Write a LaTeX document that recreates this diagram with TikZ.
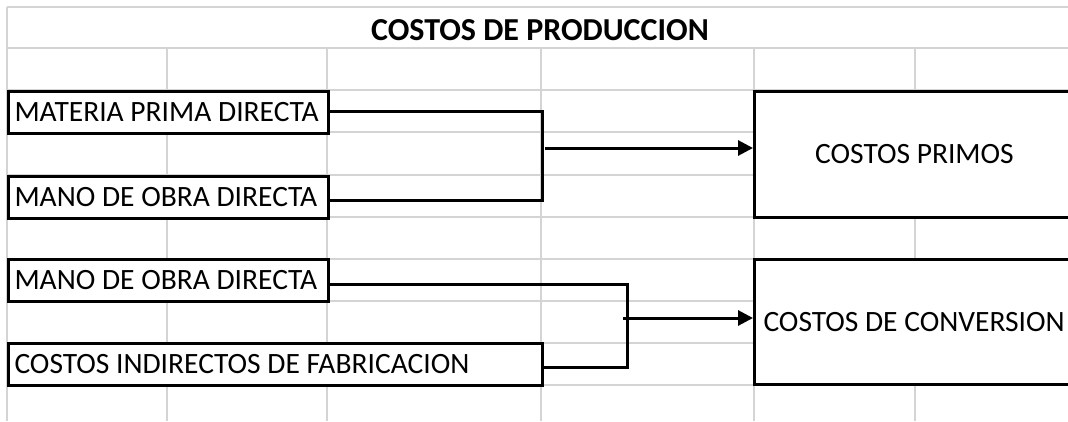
\documentclass[tikz,border=0pt]{standalone}
\usepackage{fontspec}
\setmainfont{Carlito}
\usetikzlibrary{arrows.meta}
\definecolor{gridc}{HTML}{D4D4D4}
\tikzset{
  gridline/.style={draw=gridc, line width=1.4pt},
  cell/.style={draw=black, fill=white, line width=3pt, rectangle, inner ysep=0pt,
    font=\fontsize{29.5}{34}\selectfont, anchor=north west},
  leftcell/.style={cell, align=flush left, inner xsep=6pt},
  conn/.style={draw=black, line width=3pt},
  arrowline/.style={conn, -{Triangle[length=15pt,width=15pt]}},
  titletext/.style={font=\fontsize{32}{38}\selectfont\bfseries}
}
\begin{document}
\begin{tikzpicture}[x=1pt,y=-1pt]
\useasboundingbox (0,0) rectangle (1068,421);
\fill[white] (0,0) rectangle (1068,421);
% spreadsheet grid
\foreach \yy in {7,48,90,132,175,217,259,301,343,385}
  \draw[gridline] (7,\yy) -- (1068,\yy);
\draw[gridline] (7,7) -- (7,421);
\foreach \xx in {167,327,541,754,915}
  \draw[gridline] (\xx,48) -- (\xx,421);
% title
\node[titletext] (title) at (540,30) {COSTOS DE PRODUCCION};
% boxes
\node[leftcell, minimum width=320pt, minimum height=42pt, text width=308pt] (mpd) at (7,90) {MATERIA PRIMA DIRECTA};
\node[leftcell, minimum width=320pt, minimum height=42pt, text width=308pt] (modA) at (7,175) {MANO DE OBRA DIRECTA};
\node[leftcell, minimum width=320pt, minimum height=42pt, text width=308pt] (modB) at (7,258) {MANO DE OBRA DIRECTA};
\node[leftcell, minimum width=534pt, minimum height=42pt, text width=522pt] (cif) at (7,342) {COSTOS INDIRECTOS DE FABRICACION};
\node[cell, minimum width=320pt, minimum height=126pt] (cp) at (753,90) {COSTOS PRIMOS};
\node[leftcell, inner xsep=9pt, minimum width=320pt, minimum height=125pt, text width=340pt] (cc) at (753,258) {COSTOS DE CONVERSION};
% junction coordinates
\coordinate (ja) at (542,150);
\coordinate (jb) at (627,318);
% connectors
\draw[conn] ([yshift=1pt]mpd.east) -- ([yshift=1pt]mpd.east -| ja) -- ([yshift=-3pt]modA.east -| ja) -- ([yshift=-3pt]modA.east);
\draw[arrowline] ([xshift=3pt]ja |- 0,148) -- (cp.west |- 0,148);
\draw[conn] ([yshift=-4pt]modB.east) -- ([yshift=-4pt]modB.east -| jb) -- ([yshift=-3pt]cif.east -| jb) -- ([yshift=-3pt]cif.east);
\draw[arrowline] ([xshift=-4pt]jb) -- (cc.west |- jb);
\end{tikzpicture}
\end{document}
